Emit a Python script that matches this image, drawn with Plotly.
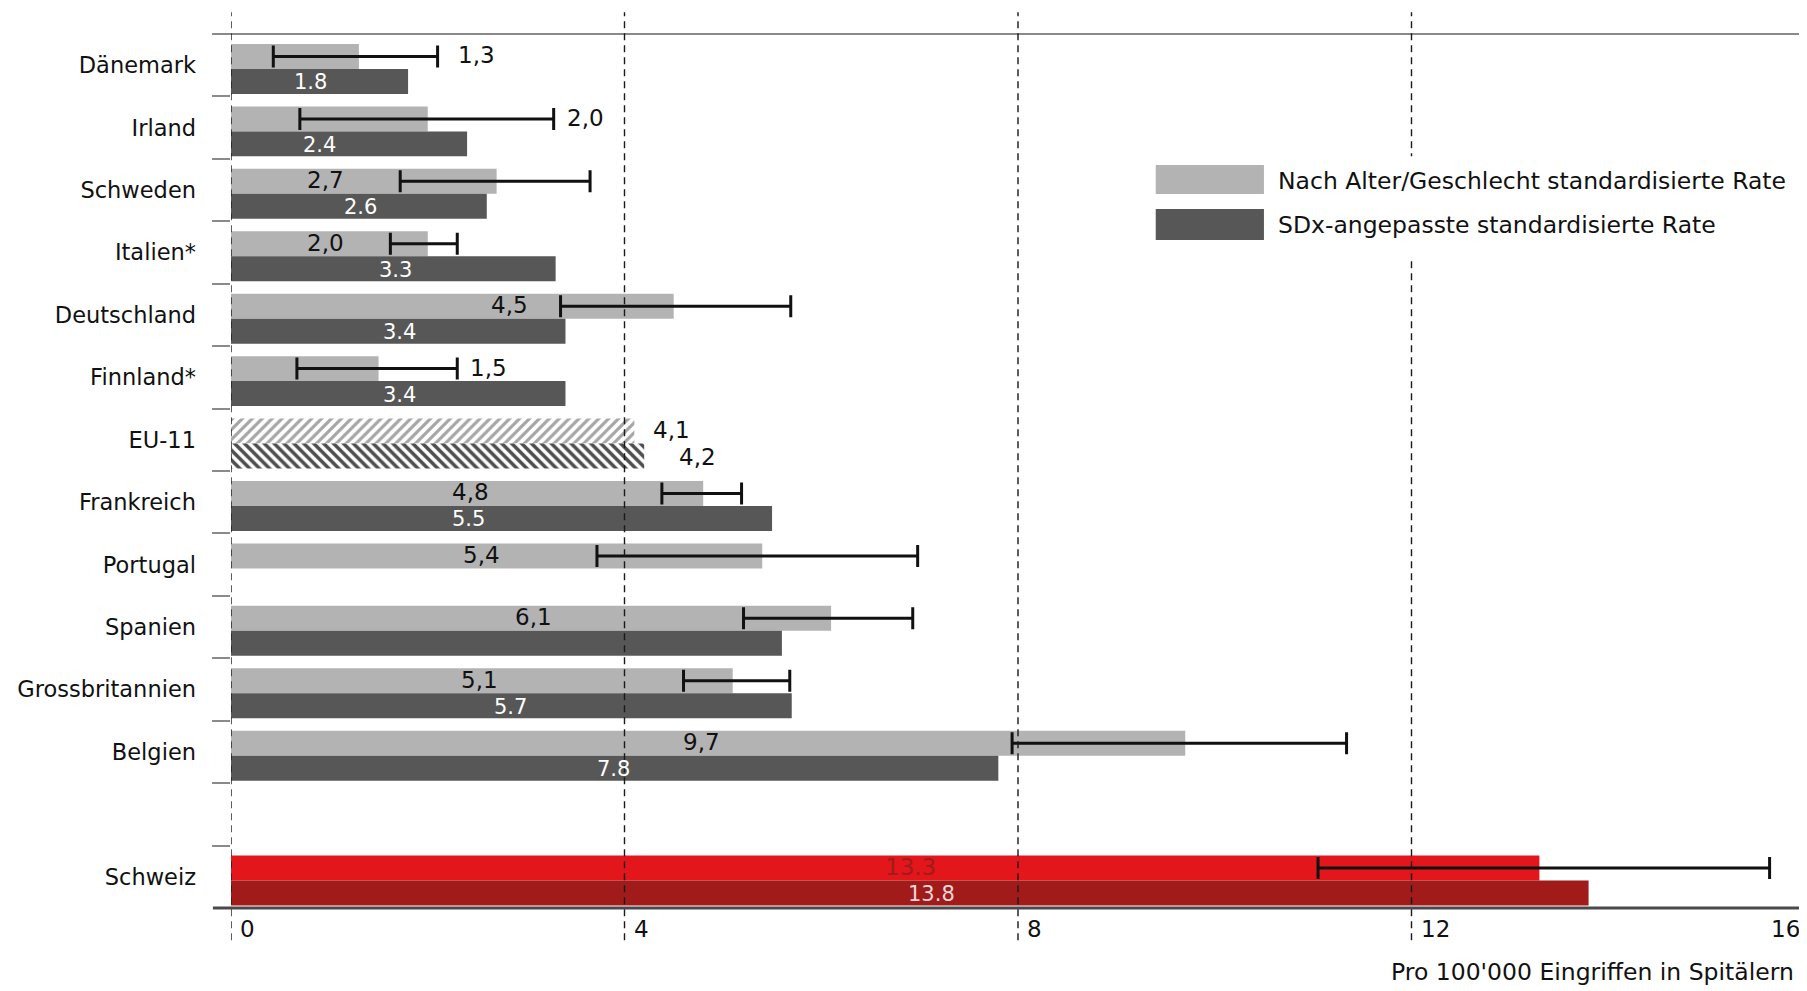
import plotly.graph_objects as go

# ---------------- data ----------------
categories = ["Dänemark", "Irland", "Schweden", "Italien*", "Deutschland", "Finnland*",
              "EU-11", "Frankreich", "Portugal", "Spanien", "Grossbritannien", "Belgien",
              " ", "Schweiz"]
age_sex_rate = [1.3, 2.0, 2.7, 2.0, 4.5, 1.5, 4.1, 4.8, 5.4, 6.1, 5.1, 9.7, None, 13.3]
sdx_rate = [1.8, 2.4, 2.6, 3.3, 3.4, 3.4, 4.2, 5.5, None, 5.6, 5.7, 7.8, None, 13.8]
ci_low = [0.43, 0.70, 1.72, 1.62, 3.35, 0.67, None, 4.38, 3.72, 5.21, 4.60, 7.94, None, 11.05]
ci_high = [2.10, 3.28, 3.65, 2.30, 5.69, 2.30, None, 5.19, 6.98, 6.93, 5.68, 11.34, None, 15.64]
age_sex_labels = ["1,3", "2,0", "2,7", "2,0", "4,5", "1,5", "4,1", "4,8", "5,4", "6,1", "5,1", "9,7", None, "13.3"]
sdx_labels = ["1.8", "2.4", "2.6", "3.3", "3.4", "3.4", "4,2", "5.5", None, None, "5.7", "7.8", None, "13.8"]
x_ticks = [0, 4, 8, 12, 16]
legend_names = ["Nach Alter/Geschlecht standardisierte Rate", "SDx-angepasste standardisierte Rate"]
axis_title = "Pro 100'000 Eingriffen in Spitälern"
pooled_category = "EU-11"
highlight_category = "Schweiz"

# ---------------- layout / style (positions) ----------------
age_label_x = [2.50, 3.60, 0.96, 0.96, 2.83, 2.62, 4.48, 2.43, 2.55, 3.07, 2.53, 4.78, None, 6.91]
sdx_label_x = [0.81, 0.90, 1.32, 1.67, 1.71, 1.71, 4.74, 2.41, None, None, 2.84, 3.89, None, 7.12]

FONT = "DejaVu Sans, Verdana, sans-serif"
LIGHT = "#b3b3b3"
DARK = "#575757"
RED_L = "#e3161b"
RED_D = "#a11b1b"
LIGHT_OFF, DARK_OFF, BAR_W = -0.34, 0.06, 0.40

# the page body has an 8px default margin; the figure is sized so that it ends at the window edge
PAGE_PAD = 8
W, H = 1807 - PAGE_PAD, 991 - PAGE_PAD

idx = {c: i for i, c in enumerate(categories)}
sw = idx[highlight_category]
eu = idx[pooled_category]
n = len(categories)

light_colors = [RED_L if i == sw else LIGHT for i in range(n)]
dark_colors = [RED_D if i == sw else DARK for i in range(n)]

light_main = [None if i == eu else v for i, v in enumerate(age_sex_rate)]
dark_main = [None if i == eu else v for i, v in enumerate(sdx_rate)]
err_plus = [None if (h is None or v is None) else h - v for h, v in zip(ci_high, light_main)]
err_minus = [None if (l is None or v is None) else v - l for l, v in zip(ci_low, light_main)]

fig = go.Figure()
fig.add_trace(go.Bar(
    y=categories, x=light_main, orientation="h", name=legend_names[0],
    offset=LIGHT_OFF, width=BAR_W,
    marker=dict(color=light_colors, line=dict(width=0)),
    error_x=dict(type="data", symmetric=False, array=err_plus, arrayminus=err_minus,
                 color="#111111", thickness=3, width=11),
    showlegend=False, hoverinfo="skip",
))
fig.add_trace(go.Bar(
    y=categories, x=dark_main, orientation="h", name=legend_names[1],
    offset=DARK_OFF, width=BAR_W,
    marker=dict(color=dark_colors, line=dict(width=0)),
    showlegend=False, hoverinfo="skip",
))
# pooled EU-11 values, hatched
fig.add_trace(go.Bar(
    y=[pooled_category], x=[age_sex_rate[eu]], orientation="h",
    offset=LIGHT_OFF, width=BAR_W,
    marker=dict(color="white", line=dict(width=0),
                pattern=dict(shape="/", fgcolor="#a6a6a6", bgcolor="white", fgopacity=1,
                             size=7, solidity=0.45, fillmode="replace")),
    showlegend=False, hoverinfo="skip",
))
fig.add_trace(go.Bar(
    y=[pooled_category], x=[sdx_rate[eu]], orientation="h",
    offset=DARK_OFF, width=BAR_W,
    marker=dict(color="white", line=dict(width=0),
                pattern=dict(shape="\\", fgcolor="#4d4d4d", bgcolor="white", fgopacity=1,
                             size=7, solidity=0.5, fillmode="replace")),
    showlegend=False, hoverinfo="skip",
))

annotations = []
for i, (lab, lx) in enumerate(zip(age_sex_labels, age_label_x)):
    if lab is None:
        continue
    col = RED_D if i == sw else "#111111"
    annotations.append(dict(x=lx, y=i + LIGHT_OFF + BAR_W / 2, xref="x", yref="y", text=lab,
                            showarrow=False, xanchor="center", yanchor="middle", yshift=1,
                            font=dict(family=FONT, size=23, color=col)))
for i, (lab, lx) in enumerate(zip(sdx_labels, sdx_label_x)):
    if lab is None:
        continue
    size = 21
    if i == eu:
        col = "#111111"
        size = 23
    elif i == sw:
        col = "#f3d6d6"
    else:
        col = "white"
    annotations.append(dict(x=lx, y=i + DARK_OFF + BAR_W / 2, xref="x", yref="y", text=lab,
                            showarrow=False, xanchor="center", yanchor="middle", yshift=-1,
                            font=dict(family=FONT, size=size, color=col)))

# x tick labels
for t in x_ticks:
    last = t == x_ticks[-1]
    annotations.append(dict(x=t, y=-0.024, xref="x", yref="paper", text=str(t), showarrow=False,
                            xanchor="right" if last else "left", yanchor="middle",
                            xshift=-3 if last else 7,
                            font=dict(family=FONT, size=23, color="#111111")))

annotations.append(dict(x=0.9943, y=-0.073, xref="paper", yref="paper", text=axis_title,
                        showarrow=False, xanchor="right", yanchor="middle",
                        font=dict(family=FONT, size=23.5, color="#111111")))

# legend texts
annotations.append(dict(x=10.62, y=0.8318, xref="x", yref="paper", text=legend_names[0],
                        showarrow=False, xanchor="left", yanchor="middle",
                        font=dict(family=FONT, size=23.5, color="#111111")))
annotations.append(dict(x=10.62, y=0.7815, xref="x", yref="paper", text=legend_names[1],
                        showarrow=False, xanchor="left", yanchor="middle",
                        font=dict(family=FONT, size=23.5, color="#111111")))

shapes = []
# top line
shapes.append(dict(type="line", xref="paper", yref="paper", x0=-0.0115, x1=1.002, y0=1, y1=1,
                   line=dict(color="#8a8a8a", width=2), layer="above"))
# bottom axis line
shapes.append(dict(type="line", xref="paper", yref="paper", x0=-0.0115, x1=1.0, y0=0, y1=0,
                   line=dict(color="#4a4a4a", width=3), layer="above"))
# dashed vertical gridlines
for t in x_ticks:
    shapes.append(dict(type="line", xref="x", yref="paper", x0=t, x1=t, y0=-0.037, y1=1.025,
                       line=dict(color="#1a1a1a", width=1.4, dash="7px,5px"), layer="above"))
# legend background
shapes.append(dict(type="rect", xref="x", yref="paper", x0=9.31, x1=15.9, y0=0.7426, y1=0.860,
                   fillcolor="white", line=dict(width=0), layer="above"))
# legend swatches
shapes.append(dict(type="rect", xref="x", yref="paper", x0=9.40, x1=10.50, y0=0.8169, y1=0.8501,
                   fillcolor=LIGHT, line=dict(width=0), layer="above"))
shapes.append(dict(type="rect", xref="x", yref="paper", x0=9.40, x1=10.50, y0=0.7643, y1=0.7998,
                   fillcolor=DARK, line=dict(width=0), layer="above"))

fig.update_layout(
    width=W, height=H,
    margin=dict(l=231 - PAGE_PAD, r=2, t=34 - PAGE_PAD, b=83, autoexpand=False),
    paper_bgcolor="white", plot_bgcolor="white",
    barmode="overlay",
    showlegend=False,
    font=dict(family=FONT, size=22.5, color="#111111"),
    xaxis=dict(range=[0, 16], showgrid=False, zeroline=False, showticklabels=False,
               ticks="", showline=False, fixedrange=True, automargin=False),
    yaxis=dict(type="category", categoryorder="array", categoryarray=categories,
               range=[13.5, -0.5], showgrid=False, zeroline=False, showline=False,
               tickson="boundaries", ticks="outside", ticklen=18, tickwidth=1.5,
               tickcolor="#8a8a8a", ticklabelstandoff=34, automargin=False,
               tickfont=dict(family=FONT, size=22.5, color="#111111"), fixedrange=True),
    annotations=annotations,
    shapes=shapes,
)

fig.write_html("out.html")
